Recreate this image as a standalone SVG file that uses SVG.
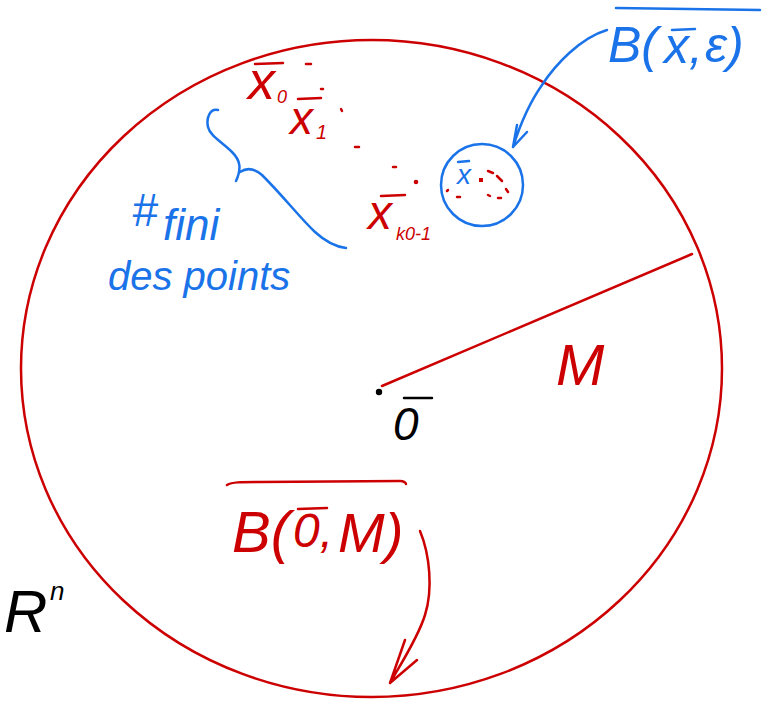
<svg xmlns="http://www.w3.org/2000/svg" width="765" height="707" viewBox="0 0 765 707">
<style>
.red{stroke:#cc0000;fill:none;stroke-width:2.5;stroke-linecap:round;stroke-linejoin:round}
.blue{stroke:#1a73e8;fill:none;stroke-width:2.5;stroke-linecap:round;stroke-linejoin:round}
.blk{stroke:#000;fill:none;stroke-width:2.5;stroke-linecap:round}
.tr{fill:#cc0000;font-family:"Liberation Sans","DejaVu Sans",sans-serif;font-style:italic}
.tb{fill:#1a73e8;font-family:"Liberation Sans","DejaVu Sans",sans-serif;font-style:italic}
.tk{fill:#000;font-family:"Liberation Sans","DejaVu Sans",sans-serif;font-style:italic}
</style>
<rect width="765" height="707" fill="#fff"/>

<g id="big-ball">
<ellipse class="red" cx="371.5" cy="368.5" rx="350.5" ry="328.5"/>
</g>

<g id="origin">
<circle cx="379" cy="392" r="3.2" fill="#000"/>
<line class="blk" x1="404" y1="398" x2="432" y2="398"/>
<text class="tk" x="393" y="440" font-size="46">0</text>
</g>

<g id="radius">
<line class="red" x1="382" y1="386" x2="692" y2="254"/>
<text class="tr" x="556" y="385" font-size="58">M</text>
</g>

<g id="points">
<line class="red" x1="255" y1="64" x2="283" y2="63"/>
<text class="tr" x="248" y="99" font-size="54">x</text>
<text class="tr" x="277" y="103" font-size="18">0</text>
<line class="red" x1="298" y1="99" x2="321" y2="98"/>
<text class="tr" x="290" y="134" font-size="46">x</text>
<text class="tr" x="316" y="139" font-size="20">1</text>
<line class="red" x1="381" y1="196" x2="405" y2="195"/>
<text class="tr" x="368" y="229" font-size="48">x</text>
<text class="tr" x="396" y="240" font-size="18">k0-1</text>
<line class="red" x1="306" y1="64" x2="311" y2="64"/>
<line class="red" x1="321" y1="89" x2="323" y2="89"/>
<line class="red" x1="341" y1="109" x2="342" y2="111"/>
<line class="red" x1="355" y1="147" x2="359" y2="147"/>
<line class="red" x1="393" y1="167" x2="396" y2="167"/>
<circle cx="416" cy="182" r="2.3" fill="#cc0000"/>
</g>

<g id="small-ball">
<circle class="blue" cx="482" cy="185" r="41"/>
<line class="blue" x1="458" y1="162" x2="469" y2="161"/>
<text class="tb" x="457" y="184" font-size="28">x</text>
<rect x="479" y="178" width="4" height="4" fill="#cc0000"/>
<path class="red" d="M488 171 L493 173 M497 176 L502 181 M506 189 L508 192 M447 191 L448 190 M457 197 L460 197 M488 195 L490 196 M498 198 L501 198" stroke-width="2"/>
</g>

<g id="label-small-ball">
<line class="blue" x1="616" y1="8" x2="760" y2="10"/>
<text class="tb" x="608" y="62" font-size="50">B(</text>
<line class="blue" x1="672" y1="30" x2="695" y2="29"/>
<text class="tb" x="664" y="63" font-size="50">x,</text>
<text class="tb" x="705" y="62" font-size="50">ε)</text>
</g>

<g id="brace-label">
<path class="blue" d="M218 110 C210 108 206 118 208 127 C210 136 222 142 232 152 C240 160 242 168 236 181 M240 172 C246 168 254 168 262 175 C285 198 300 218 315 232 C328 244 338 247 346 248"/>
<text class="tb" x="132" y="226" font-size="46">#</text>
<text class="tb" x="163" y="240" font-size="44">fini</text>
<text class="tb" x="108" y="290" font-size="40">des points</text>
</g>

<g id="label-big-ball">
<path class="red" d="M227 485 C232 482 240 482 260 482 L400 481 C404 481 406 483 406 484"/>
<text class="tr" x="232" y="552" font-size="58">B(</text>
<line class="red" x1="298" y1="509" x2="327" y2="508"/>
<text class="tr" x="293" y="547" font-size="48">0,</text>
<text class="tr" x="338" y="552" font-size="56">M)</text>
</g>

<g id="space-label">
<text class="tk" x="4" y="632" font-size="60">R</text>
<text class="tk" x="50" y="600" font-size="26">n</text>
</g>

<g id="connectors">
<path class="blue" d="M607 30 C580 38 555 65 542 85 C530 102 520 125 513 147 M513 147 L517 125 M513 147 L527 132"/>
<path class="red" d="M420 531 C430 555 433 590 425 615 C418 638 400 665 390 683 M390 683 L405 640 M390 683 L417 660"/>
</g>
</svg>
